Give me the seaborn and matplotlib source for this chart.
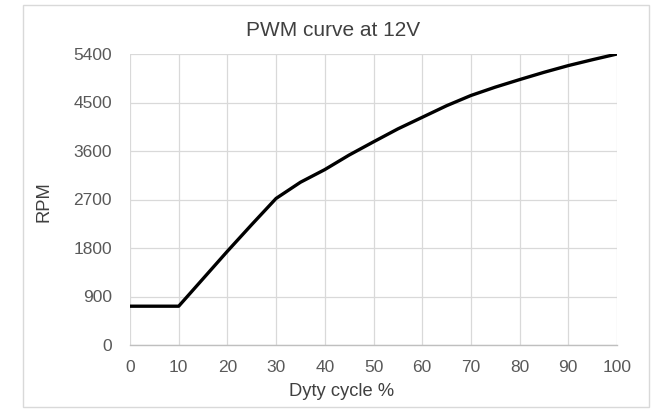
import numpy as np
import pandas as pd
import seaborn as sns
import matplotlib.pyplot as plt
from matplotlib.patches import Rectangle

# PWM duty cycle (%) vs fan speed (RPM)
duty = [0, 10, 15, 20, 25, 30, 35, 40, 45, 50, 55, 60, 65, 70, 75, 80, 85, 90, 95, 100]
rpm = [720, 720, 1230, 1740, 2235, 2720, 3020, 3255, 3525, 3770, 4010, 4225, 4440, 4630, 4785, 4925, 5060, 5185, 5295, 5400]

x_ticks = list(range(0, 101, 10))
y_ticks = list(range(0, 5401, 900))

sns.set_style("white")
plt.rcParams["font.family"] = ["Liberation Sans", "DejaVu Sans"]

W, H = 651, 409
fig = plt.figure(figsize=(W / 100, H / 100), dpi=100)
ax = fig.add_axes([130 / W, 1 - 345 / H, (617 - 130) / W, (345 - 54) / H])

df = pd.DataFrame({"duty": duty, "rpm": rpm})
sns.lineplot(data=df, x="duty", y="rpm", color="black", linewidth=2.4, ax=ax, zorder=3)
for ln in ax.lines:
    ln.set_solid_joinstyle("round")
    ln.set_solid_capstyle("round")

ax.set_xlim(0, 100)
ax.set_ylim(0, 5400)
ax.set_xticks(x_ticks)
ax.set_yticks(y_ticks)
ax.grid(True, color="#d9d9d9", linewidth=0.9)
ax.set_axisbelow(True)
for s in ["top", "right", "left"]:
    ax.spines[s].set_visible(False)
ax.spines["bottom"].set_color("#bfbfbf")
ax.spines["bottom"].set_linewidth(1.0)
ax.tick_params(axis="both", length=0, labelsize=12.5, labelcolor="#595959")
ax.tick_params(axis="y", pad=13)
ax.tick_params(axis="x", pad=11)
ax.set_xlabel("")
ax.set_ylabel("")

# texts placed like the spreadsheet chart
fig.text(333 / W, 1 - 30 / H, "PWM curve at 12V", ha="center", va="center",
         fontsize=15, color="#404040")
fig.text(342 / W, 1 - 392 / H, "Dyty cycle %", ha="center", va="center",
         fontsize=13.2, color="#404040")
fig.text(44 / W, 1 - 202 / H, "RPM", ha="center", va="center", rotation=90,
         fontsize=13.2, color="#404040")

# chart area border
fig.patches.append(Rectangle((23 / W, 1 - 407 / H), (649 - 23) / W, (407 - 5) / H,
                             transform=fig.transFigure, fill=False,
                             edgecolor="#d9d9d9", linewidth=1.0))

fig.savefig("out.png", dpi=100)
